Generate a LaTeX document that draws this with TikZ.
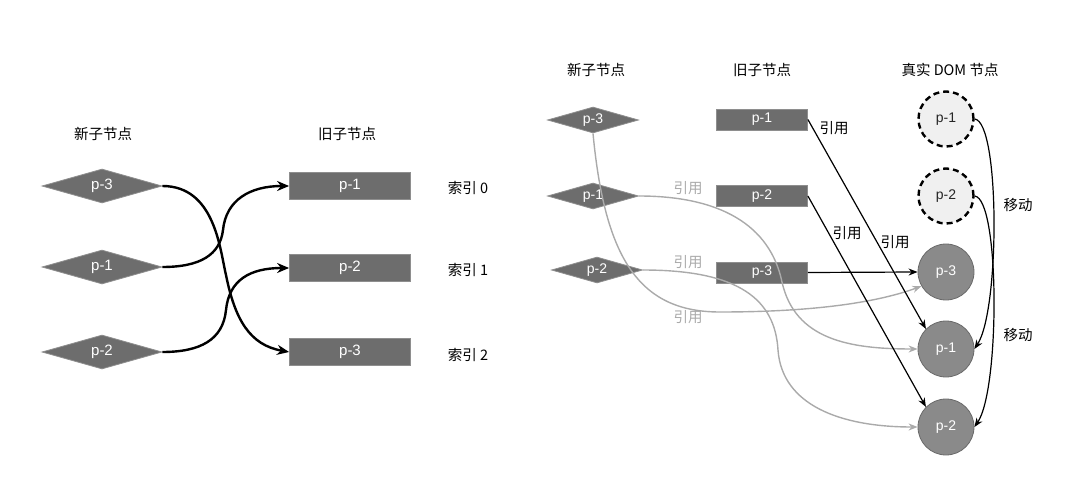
\documentclass[tikz,border=0pt]{standalone}
\usepackage{fontspec}
\setmainfont{Liberation Sans}
\newfontfamily\cjk{Noto Sans CJK SC}
\usetikzlibrary{shapes.geometric,arrows.meta}
\definecolor{boxfill}{HTML}{6D6D6D}
\definecolor{boxline}{HTML}{8E8E8E}
\definecolor{circfill}{HTML}{8A8A8A}
\definecolor{circline}{HTML}{6A6A6A}
\definecolor{ghost}{HTML}{F0F0F0}
\definecolor{refgray}{HTML}{AAAAAA}
\tikzset{
  lbl/.style={font=\cjk\fontsize{14.5}{16}\selectfont, text=black, inner sep=0},
  reflbl/.style={font=\cjk\fontsize{14.5}{16}\selectfont, text=refgray, inner sep=0},
  dia/.style={diamond, aspect=3.5, fill=boxfill, draw=boxline, line width=0.8pt, text=white, inner sep=0},
  diabig/.style={dia, minimum width=120pt, minimum height=34pt, font=\fontsize{15}{17}\selectfont},
  diasmall/.style={dia, minimum width=91pt, minimum height=26pt, font=\fontsize{14}{16}\selectfont},
  box/.style={rectangle, fill=boxfill, draw=boxline, line width=0.8pt, text=white, inner sep=0},
  boxbig/.style={box, minimum width=121pt, minimum height=27pt, font=\fontsize{15}{17}\selectfont},
  boxsmall/.style={box, minimum width=91pt, minimum height=21pt, font=\fontsize{14}{16}\selectfont},
  real/.style={circle, minimum size=56pt, inner sep=0, fill=circfill, draw=circline, line width=0.8pt, text=white, font=\fontsize{14}{16}\selectfont},
  ghostc/.style={circle, minimum size=55pt, inner sep=0, fill=ghost, draw=black, line width=2.4pt, dash pattern=on 6pt off 4pt, text=black!85, font=\fontsize{14}{16}\selectfont},
  thick arrow/.style={line width=2.4pt, -{Stealth[length=12pt,width=10pt]}},
  thin arrow/.style={line width=1.2pt, -{Stealth[length=9pt,width=7pt]}},
  gray arrow/.style={line width=1.4pt, draw=refgray, -{Stealth[length=9pt,width=7pt]}, color=refgray},
}
\begin{document}
\begin{tikzpicture}[x=1pt,y=-1pt]
\useasboundingbox (0,0) rectangle (1082,500);
% ---------- left part ----------
\node[lbl] (lnew) at (103,134) {新子节点};
\node[lbl] (lold) at (347,134) {旧子节点};
\node[diabig] (ln3) at (102,186) {p-3};
\node[diabig] (ln1) at (102,267) {p-1};
\node[diabig] (ln2) at (102,352) {p-2};
\node[boxbig] (lo1) at (350,186) {p-1};
\node[boxbig] (lo2) at (350,268) {p-2};
\node[boxbig] (lo3) at (350,352) {p-3};
\node[lbl] (i0) at (468,188) {索引 0};
\node[lbl] (i1) at (468,270) {索引 1};
\node[lbl] (i2) at (468,355) {索引 2};
\draw[thick arrow] (ln3.east) .. controls (215,186) and (220,250) .. (226,275) .. controls (235,320) and (250,345) .. (lo3.west);
\draw[thick arrow] (ln1.east) .. controls (200,267) and (220,255) .. (223,230) .. controls (226,200) and (250,186) .. (lo1.west);
\draw[thick arrow] (ln2.east) .. controls (200,352) and (223,340) .. (226,310) .. controls (229,280) and (250,268) .. (lo2.west);
% ---------- right part ----------
\node[lbl] (rnew) at (596,70) {新子节点};
\node[lbl] (rold) at (762,70) {旧子节点};
\node[lbl] (rdom) at (950,70) {真实 DOM 节点};
\node[diasmall] (rn3) at (593,120) {p-3};
\node[diasmall] (rn1) at (593,196) {p-1};
\node[diasmall] (rn2) at (597,270) {p-2};
\node[boxsmall] (ro1) at (762,119.5) {p-1};
\node[boxsmall] (ro2) at (762,196) {p-2};
\node[boxsmall] (ro3) at (762,272.5) {p-3};
\node[ghostc] (g1) at (946,119) {p-1};
\node[ghostc] (g2) at (946,196) {p-2};
\node[real] (d3) at (946,272) {p-3};
\node[real] (d1) at (946,349) {p-1};
\node[real] (d2) at (946,427) {p-2};
% gray reference curves
\draw[gray arrow] (rn3.south) .. controls (605,260) and (640,312) .. (720,312) .. controls (800,312) and (870,305) .. (d3.-150);
\draw[gray arrow] (rn1.east) .. controls (720,196) and (770,225) .. (782,282) .. controls (795,340) and (850,349) .. (d1.west);
\draw[gray arrow] (rn2.east) .. controls (740,270) and (775,300) .. (778,350) .. controls (782,405) and (840,427) .. (d2.west);
\node[reflbl] (rl1) at (688,188) {引用};
\node[reflbl] (rl2) at (688,262) {引用};
\node[reflbl] (rl3) at (688,317) {引用};
% black reference lines
\draw[thin arrow] (ro1.east) -- (d1.135);
\draw[thin arrow] (ro2.east) -- (d2.135);
\draw[thin arrow] (ro3.east) -- (d3.west);
\node[lbl] (bl1) at (834,128) {引用};
\node[lbl] (bl2) at (847,233) {引用};
\node[lbl] (bl3) at (895,242) {引用};
% move arrows
\draw[thin arrow] (g1.east) .. controls (1000,122) and (1000,310) .. (d1.east);
\draw[thin arrow] (g2.east) .. controls (1000,199) and (1000,390) .. (d2.east);
\node[lbl] (m1) at (1018,205) {移动};
\node[lbl] (m2) at (1018,335) {移动};
\end{tikzpicture}
\end{document}
